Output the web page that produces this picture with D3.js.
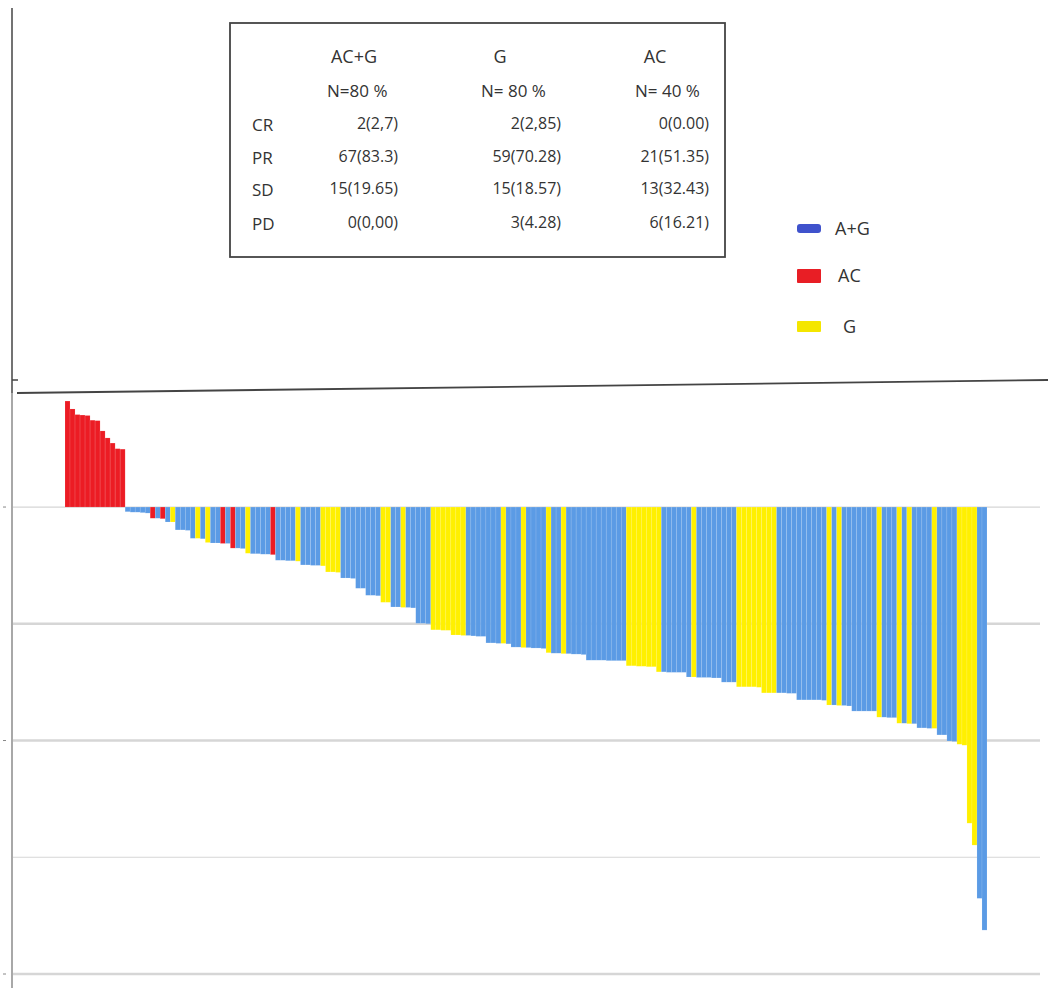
<!DOCTYPE html>
<html>
<head>
<meta charset="utf-8">
<script src="https://cdn.jsdelivr.net/npm/d3@7"></script>
<style>
  body { margin: 0; background: #fff; }
  svg text { font-family: "Open Sans", "Noto Sans", sans-serif; fill: #333; }
</style>
</head>
<body>
<div id="chart"></div>
<script>
// percent change per patient, sorted as in the waterfall
var values = [
  22.7, 21.0, 19.8, 19.7, 19.6, 18.6, 18.5, 16.3, 14.8, 13.7, 12.5, 12.4,
  -1.0, -1.1, -1.1, -1.2, -1.3, -2.4, -2.4, -2.5, -3.2, -3.2, -4.9, -4.9, -5.0,
  -6.7, -6.7, -6.8, -7.6, -7.7, -7.7, -7.8, -7.8, -8.8, -8.8, -8.9, -9.9,
  -10.0, -10.0, -10.1, -10.1, -10.2, -11.4, -11.4, -11.5, -11.5, -11.6,
  -12.4, -12.4, -12.5, -12.5, -12.6, -13.9, -13.9, -14.0, -15.2, -15.2, -15.3,
  -17.4, -17.4, -18.9, -18.9, -19.0, -20.4, -20.4, -21.4, -21.4, -21.5, -21.5, -21.6,
  -24.9, -24.9, -25.0, -26.3, -26.3, -26.4, -26.4, -27.4, -27.4, -27.5,
  -27.5, -27.6, -27.7, -27.7, -29.1, -29.1, -29.2, -29.2, -29.3,
  -30.0, -30.0, -30.1, -30.1, -30.2, -30.2, -30.3, -31.2, -31.3, -31.3,
  -31.4, -31.4, -31.5, -31.5, -31.6, -32.8, -32.8, -32.8, -32.8, -32.9, -32.9, -32.9, -32.9,
  -34.0, -34.0, -34.1, -34.1, -34.2, -34.2, -35.3, -35.3, -35.4, -35.4, -35.4, -35.4,
  -36.4, -36.4, -36.5, -36.5, -36.5, -36.6, -36.6, -37.5, -37.5, -37.5,
  -38.5, -38.5, -38.5, -38.5, -38.6, -39.8, -39.8, -39.8, -39.8, -39.8, -39.9, -39.9,
  -41.3, -41.3, -41.3, -41.3, -41.3, -41.4, -42.4, -42.4, -42.5, -42.5, -42.6,
  -43.7, -43.7, -43.7, -43.7, -43.7, -45.0, -45.0, -45.1, -45.1,
  -46.3, -46.3, -46.4, -46.4, -47.3, -47.3, -47.4, -47.4, -48.8, -48.8,
  -50.1, -50.2, -50.8, -51.0, -67.7, -72.4, -83.8, -90.6
]
var groups = [
  'AC','AC','AC','AC','AC','AC','AC','AC','AC','AC','AC','AC',
  'AG','AG','AG','AG','AG','AC','AG','AC','AG','G','AG','AG','AG',
  'AG','G','AG','G','AG','AG','AC','AG','AC','AG','AG','G',
  'AG','AG','AG','AG','AC','AG','AG','AG','AG','G',
  'AG','AG','AG','AG','G','G','G','G','AG','AG','AG',
  'AG','AG','AG','AG','AG','G','G','AG','AG','G','AG','AG',
  'AG','AG','AG','G','G','G','G','G','G','G',
  'AG','AG','AG','AG','AG','AG','AG','G','AG',
  'AG','AG','G','AG','AG','AG','AG','G','AG','AG',
  'G','AG','AG','AG','AG','AG','AG','AG','AG','AG','AG','AG','AG',
  'G','G','G','G','G','G','G','AG','AG','AG','AG','AG',
  'AG','G','AG','AG','AG','AG','AG','AG','AG','AG',
  'G','G','G','G','G','G','G','G','AG','AG','AG','AG',
  'AG','AG','AG','AG','AG','AG','G','AG','G','AG','AG',
  'AG','AG','AG','AG','AG','G','AG','AG','AG',
  'G','AG','G','AG','AG','AG','AG','G','AG','AG',
  'AG','AG','G','G','G','G','AG','AG'
]
var yTicks = [0, -25, -50, -75, -100]

var tableCols  = ['AC+G', 'G', 'AC']
var tableN     = ['N=80 %', 'N= 80 %', 'N= 40 %']
var tableRows  = ['CR', 'PR', 'SD', 'PD']
var tableCells = [
  ['2(2,7)',    '2(2,85)',   '0(0.00)'],
  ['67(83.3)',  '59(70.28)', '21(51.35)'],
  ['15(19.65)', '15(18.57)', '13(32.43)'],
  ['0(0,00)',   '3(4.28)',   '6(16.21)']
]
var legendKeys   = ['AG', 'AC', 'G']
var legendLabels = ['A+G', 'AC', 'G']

var color = {AG: '#5b9be5', AC: '#ec1c24', G: '#fff000'}
var legendColor = {AG: '#3f52cc', AC: '#e81e25', G: '#f4e600'}

var W = 1048, H = 988
var svg = d3.select('#chart').append('svg').attr('width', W).attr('height', H)

var x = d3.scaleBand().domain(d3.range(values.length)).range([65, 987]).padding(0)
var y = d3.scaleLinear().domain([-100, 25]).range([974, 390.3])

// gridlines
svg.append('g').selectAll('line').data(yTicks).join('line')
  .attr('x1', 12).attr('x2', 1040)
  .attr('y1', d => y(d)).attr('y2', d => y(d))
  .attr('stroke', '#d6d6d6')
  .attr('stroke-width', d => (d == -25 || d == -50 || d == -100) ? 2.5 : 1.2)

// little ticks on the far left
svg.append('g').selectAll('line').data([0, -50, -100]).join('line')
  .attr('x1', 3).attr('x2', 6)
  .attr('y1', d => y(d)).attr('y2', d => y(d))
  .attr('stroke', '#888').attr('stroke-width', 1)

// bars
svg.append('g').selectAll('rect').data(values).join('rect')
  .attr('x', (d, i) => x(i))
  .attr('width', x.bandwidth())
  .attr('y', d => Math.min(y(d), y(0)))
  .attr('height', d => Math.abs(y(d) - y(0)))
  .attr('fill', (d, i) => color[groups[i]])
  .attr('stroke', 'rgba(255,255,255,0.22)')
  .attr('stroke-width', 0.5)

// frame lines
svg.append('line').attr('x1', 12).attr('x2', 12).attr('y1', 8).attr('y2', 393)
  .attr('stroke', '#444').attr('stroke-width', 1.5)
svg.append('line').attr('x1', 12).attr('x2', 12).attr('y1', 393).attr('y2', 988)
  .attr('stroke', '#a8a8a8').attr('stroke-width', 2)
svg.append('line').attr('x1', 12).attr('x2', 18).attr('y1', 380).attr('y2', 380)
  .attr('stroke', '#444').attr('stroke-width', 1.5)
svg.append('line').attr('x1', 17).attr('x2', 1048).attr('y1', 393).attr('y2', 380)
  .attr('stroke', '#444').attr('stroke-width', 1.8)

// response table
var tbl = svg.append('g')
tbl.append('rect').attr('x', 230).attr('y', 23).attr('width', 495).attr('height', 234)
  .attr('fill', '#fff').attr('stroke', '#444').attr('stroke-width', 1.8)

var colCenter = [354, 500, 655]
var colRight  = [398, 561, 709]
var rowY      = [129, 162, 194, 228]

tbl.selectAll('.hdr').data(tableCols).join('text').attr('class', 'hdr')
  .attr('x', (d, i) => colCenter[i]).attr('y', 63)
  .attr('text-anchor', 'middle').style('font-size', '18px').text(d => d)
tbl.selectAll('.nrow').data(tableN).join('text').attr('class', 'nrow')
  .attr('x', (d, i) => [327, 481, 635][i]).attr('y', 97)
  .style('font-size', '17px').text(d => d)
tbl.selectAll('.rlab').data(tableRows).join('text').attr('class', 'rlab')
  .attr('x', 252).attr('y', (d, i) => rowY[i] + 2)
  .style('font-size', '17px').text(d => d)
tableCells.forEach(function(row, r) {
  tbl.selectAll('.c' + r).data(row).join('text').attr('class', 'c' + r)
    .attr('x', (d, i) => colRight[i]).attr('y', rowY[r])
    .attr('text-anchor', 'end').style('font-size', '16px').text(d => d)
})

// legend
var lgY = [229, 276, 327]
var lg = svg.append('g')
lg.selectAll('rect').data(legendKeys).join('rect')
  .attr('x', 797).attr('width', 24)
  .attr('y', (d, i) => lgY[i] - [5, 7, 6][i])
  .attr('height', (d, i) => [9, 14, 11][i])
  .attr('rx', (d, i) => i == 0 ? 3 : 1)
  .attr('fill', d => legendColor[d])
lg.selectAll('text').data(legendLabels).join('text')
  .attr('x', (d, i) => [835, 838, 843][i]).attr('y', (d, i) => lgY[i] + 6)
  .style('font-size', '18px').text(d => d)
</script>
</body>
</html>
